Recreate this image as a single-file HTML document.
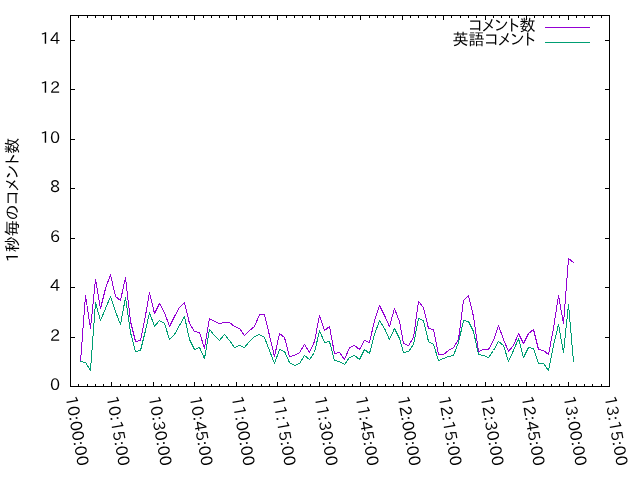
<!DOCTYPE html>
<html lang="ja"><head><meta charset="utf-8"><title>1秒毎のコメント数</title>
<style>html,body{margin:0;padding:0;background:#fff}svg{display:block}text{font-family:"IPAPGothic","IPAGothic","Liberation Sans","Noto Sans CJK JP",sans-serif;font-size:16px;fill:#000}text.n{font-family:"IPAPGothic","Liberation Sans",sans-serif}</style></head><body>
<svg width="640" height="480" viewBox="0 0 640 480">
<rect width="640" height="480" fill="#fff"/>
<path d="M70.5,386.5v-4.5M70.5,15.5v4.5M78.5,386.5v-2.5M78.5,15.5v2.5M87.5,386.5v-2.5M87.5,15.5v2.5M95.5,386.5v-2.5M95.5,15.5v2.5M103.5,386.5v-2.5M103.5,15.5v2.5M111.5,386.5v-4.5M111.5,15.5v4.5M120.5,386.5v-2.5M120.5,15.5v2.5M128.5,386.5v-2.5M128.5,15.5v2.5M136.5,386.5v-2.5M136.5,15.5v2.5M145.5,386.5v-2.5M145.5,15.5v2.5M153.5,386.5v-4.5M153.5,15.5v4.5M161.5,386.5v-2.5M161.5,15.5v2.5M170.5,386.5v-2.5M170.5,15.5v2.5M178.5,386.5v-2.5M178.5,15.5v2.5M186.5,386.5v-2.5M186.5,15.5v2.5M194.5,386.5v-4.5M194.5,15.5v4.5M203.5,386.5v-2.5M203.5,15.5v2.5M211.5,386.5v-2.5M211.5,15.5v2.5M219.5,386.5v-2.5M219.5,15.5v2.5M228.5,386.5v-2.5M228.5,15.5v2.5M236.5,386.5v-4.5M236.5,15.5v4.5M244.5,386.5v-2.5M244.5,15.5v2.5M252.5,386.5v-2.5M252.5,15.5v2.5M261.5,386.5v-2.5M261.5,15.5v2.5M269.5,386.5v-2.5M269.5,15.5v2.5M277.5,386.5v-4.5M277.5,15.5v4.5M286.5,386.5v-2.5M286.5,15.5v2.5M294.5,386.5v-2.5M294.5,15.5v2.5M302.5,386.5v-2.5M302.5,15.5v2.5M310.5,386.5v-2.5M310.5,15.5v2.5M319.5,386.5v-4.5M319.5,15.5v4.5M327.5,386.5v-2.5M327.5,15.5v2.5M335.5,386.5v-2.5M335.5,15.5v2.5M344.5,386.5v-2.5M344.5,15.5v2.5M352.5,386.5v-2.5M352.5,15.5v2.5M360.5,386.5v-4.5M360.5,15.5v4.5M369.5,386.5v-2.5M369.5,15.5v2.5M377.5,386.5v-2.5M377.5,15.5v2.5M385.5,386.5v-2.5M385.5,15.5v2.5M393.5,386.5v-2.5M393.5,15.5v2.5M402.5,386.5v-4.5M402.5,15.5v4.5M410.5,386.5v-2.5M410.5,15.5v2.5M418.5,386.5v-2.5M418.5,15.5v2.5M427.5,386.5v-2.5M427.5,15.5v2.5M435.5,386.5v-2.5M435.5,15.5v2.5M443.5,386.5v-4.5M443.5,15.5v4.5M451.5,386.5v-2.5M451.5,15.5v2.5M460.5,386.5v-2.5M460.5,15.5v2.5M468.5,386.5v-2.5M468.5,15.5v2.5M476.5,386.5v-2.5M476.5,15.5v2.5M485.5,386.5v-4.5M485.5,15.5v4.5M493.5,386.5v-2.5M493.5,15.5v2.5M501.5,386.5v-2.5M501.5,15.5v2.5M509.5,386.5v-2.5M509.5,15.5v2.5M518.5,386.5v-2.5M518.5,15.5v2.5M526.5,386.5v-4.5M526.5,15.5v4.5M534.5,386.5v-2.5M534.5,15.5v2.5M543.5,386.5v-2.5M543.5,15.5v2.5M551.5,386.5v-2.5M551.5,15.5v2.5M559.5,386.5v-2.5M559.5,15.5v2.5M568.5,386.5v-4.5M568.5,15.5v4.5M576.5,386.5v-2.5M576.5,15.5v2.5M584.5,386.5v-2.5M584.5,15.5v2.5M592.5,386.5v-2.5M592.5,15.5v2.5M601.5,386.5v-2.5M601.5,15.5v2.5M609.5,386.5v-4.5M609.5,15.5v4.5M70.5,386.5h4.5M609.5,386.5h-4.5M70.5,337.5h4.5M609.5,337.5h-4.5M70.5,287.5h4.5M609.5,287.5h-4.5M70.5,238.5h4.5M609.5,238.5h-4.5M70.5,188.5h4.5M609.5,188.5h-4.5M70.5,139.5h4.5M609.5,139.5h-4.5M70.5,89.5h4.5M609.5,89.5h-4.5M70.5,40.5h4.5M609.5,40.5h-4.5" stroke="#000" stroke-width="1" fill="none"/>
<rect x="70.5" y="15.5" width="539.0" height="371.0" fill="none" stroke="#000" stroke-width="1"/>
<text class="n" x="60.2" y="389.8" text-anchor="end">0</text>
<text class="n" x="60.2" y="340.8" text-anchor="end">2</text>
<text class="n" x="60.2" y="290.8" text-anchor="end">4</text>
<text class="n" x="60.2" y="241.8" text-anchor="end">6</text>
<text class="n" x="60.2" y="191.8" text-anchor="end">8</text>
<text class="n" x="60.2" y="142.8" text-anchor="end">10</text>
<text class="n" x="60.2" y="92.8" text-anchor="end">12</text>
<text class="n" x="60.2" y="43.8" text-anchor="end">14</text>
<text class="n" transform="translate(71.2,396.0) rotate(80)" x="0" y="5.8" textLength="70.7">10:00:00</text>
<text class="n" transform="translate(112.2,396.0) rotate(80)" x="0" y="5.8" textLength="70.7">10:15:00</text>
<text class="n" transform="translate(154.2,396.0) rotate(80)" x="0" y="5.8" textLength="70.7">10:30:00</text>
<text class="n" transform="translate(195.2,396.0) rotate(80)" x="0" y="5.8" textLength="70.7">10:45:00</text>
<text class="n" transform="translate(237.2,396.0) rotate(80)" x="0" y="5.8" textLength="70.7">11:00:00</text>
<text class="n" transform="translate(278.2,396.0) rotate(80)" x="0" y="5.8" textLength="70.7">11:15:00</text>
<text class="n" transform="translate(320.2,396.0) rotate(80)" x="0" y="5.8" textLength="70.7">11:30:00</text>
<text class="n" transform="translate(361.2,396.0) rotate(80)" x="0" y="5.8" textLength="70.7">11:45:00</text>
<text class="n" transform="translate(403.2,396.0) rotate(80)" x="0" y="5.8" textLength="70.7">12:00:00</text>
<text class="n" transform="translate(444.2,396.0) rotate(80)" x="0" y="5.8" textLength="70.7">12:15:00</text>
<text class="n" transform="translate(486.2,396.0) rotate(80)" x="0" y="5.8" textLength="70.7">12:30:00</text>
<text class="n" transform="translate(527.2,396.0) rotate(80)" x="0" y="5.8" textLength="70.7">12:45:00</text>
<text class="n" transform="translate(569.2,396.0) rotate(80)" x="0" y="5.8" textLength="70.7">13:00:00</text>
<text class="n" transform="translate(610.2,396.0) rotate(80)" x="0" y="5.8" textLength="70.7">13:15:00</text>
<text transform="translate(17.7,200) rotate(-90)" text-anchor="middle" textLength="124.64">1秒毎のコメント数</text>
<text x="535.5" y="31.3" text-anchor="end" textLength="67.05">コメント数</text>
<text x="535.5" y="45.3" text-anchor="end" textLength="83.05">英語コメント</text>
<path d="M545,27.5H590" stroke="#9400d3" stroke-width="1" fill="none"/>
<path d="M545,42.5H590" stroke="#009e73" stroke-width="1" fill="none"/>
<polyline points="80.5,361.5 85.5,295.5 90.5,328.5 95.5,279.5 100.5,308.5 105.5,288.5 110.5,274.5 115.5,296.5 120.5,300.5 125.5,277.5 130.5,321.5 135.5,341.5 140.5,340.5 145.5,315.5 149.5,292.5 154.5,313.5 159.5,303.5 164.5,312.5 169.5,326.5 174.5,316.5 179.5,307.5 184.5,302.5 189.5,323.5 194.5,331.5 199.5,332.5 204.5,348.5 209.5,318.5 214.5,321.5 219.5,323.5 224.5,322.5 229.5,322.5 234.5,326.5 239.5,328.5 244.5,335.5 249.5,330.5 254.5,326.5 259.5,314.5 264.5,314.5 269.5,335.5 274.5,356.5 279.5,333.5 284.5,337.5 289.5,356.5 294.5,355.5 299.5,352.5 304.5,344.5 309.5,352.5 314.5,341.5 319.5,315.5 324.5,330.5 329.5,326.5 334.5,353.5 339.5,352.5 344.5,359.5 349.5,347.5 354.5,345.5 359.5,349.5 364.5,340.5 369.5,342.5 374.5,320.5 379.5,305.5 384.5,315.5 389.5,326.5 394.5,308.5 399.5,321.5 403.5,343.5 408.5,345.5 413.5,337.5 418.5,301.5 423.5,307.5 428.5,328.5 433.5,329.5 438.5,354.5 443.5,354.5 448.5,350.5 453.5,347.5 458.5,339.5 463.5,300.5 468.5,295.5 473.5,316.5 478.5,351.5 483.5,349.5 488.5,349.5 493.5,340.5 498.5,325.5 503.5,339.5 508.5,351.5 513.5,345.5 518.5,333.5 523.5,343.5 528.5,333.5 533.5,329.5 538.5,349.5 543.5,350.5 548.5,354.5 553.5,328.5 558.5,295.5 563.5,323.5 568.5,258.5 573.5,262.5" fill="none" stroke="#9400d3" stroke-width="1" stroke-linejoin="bevel" stroke-linecap="square" shape-rendering="crispEdges"/>
<polyline points="80.5,361.5 85.5,362.5 90.5,370.5 95.5,302.5 100.5,320.5 105.5,308.5 110.5,296.5 115.5,311.5 120.5,324.5 125.5,297.5 130.5,332.5 135.5,351.5 140.5,350.5 145.5,330.5 149.5,312.5 154.5,326.5 159.5,320.5 164.5,323.5 169.5,339.5 174.5,334.5 179.5,325.5 184.5,316.5 189.5,339.5 194.5,349.5 199.5,347.5 204.5,358.5 209.5,329.5 214.5,335.5 219.5,340.5 224.5,334.5 229.5,340.5 234.5,347.5 239.5,345.5 244.5,347.5 249.5,341.5 254.5,336.5 259.5,334.5 264.5,337.5 269.5,350.5 274.5,363.5 279.5,349.5 284.5,351.5 289.5,362.5 294.5,365.5 299.5,363.5 304.5,355.5 309.5,359.5 314.5,352.5 319.5,330.5 324.5,342.5 329.5,341.5 334.5,360.5 339.5,361.5 344.5,364.5 349.5,357.5 354.5,355.5 359.5,359.5 364.5,349.5 369.5,353.5 374.5,334.5 379.5,320.5 384.5,328.5 389.5,339.5 394.5,328.5 399.5,338.5 403.5,352.5 408.5,351.5 413.5,344.5 418.5,318.5 423.5,320.5 428.5,341.5 433.5,344.5 438.5,360.5 443.5,358.5 448.5,356.5 453.5,355.5 458.5,342.5 463.5,320.5 468.5,321.5 473.5,331.5 478.5,354.5 483.5,355.5 488.5,357.5 493.5,350.5 498.5,341.5 503.5,345.5 508.5,361.5 513.5,350.5 518.5,338.5 523.5,357.5 528.5,347.5 533.5,348.5 538.5,363.5 543.5,363.5 548.5,370.5 553.5,345.5 558.5,324.5 563.5,352.5 568.5,304.5 573.5,361.5" fill="none" stroke="#009e73" stroke-width="1" stroke-linejoin="bevel" stroke-linecap="square" shape-rendering="crispEdges"/>
</svg></body></html>
